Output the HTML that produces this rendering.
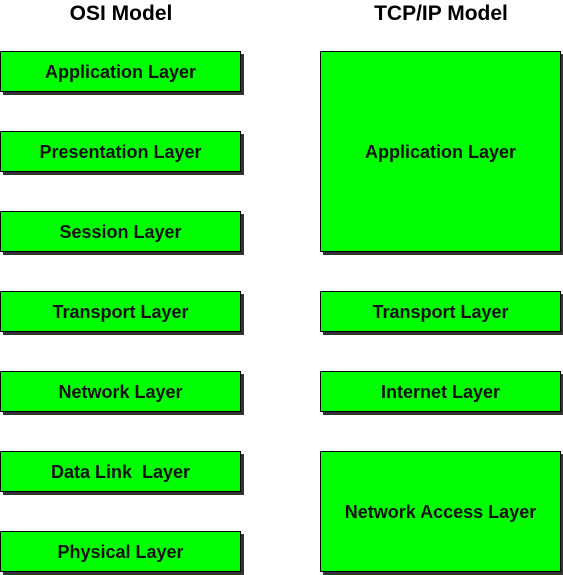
<!DOCTYPE html>
<html><head><style>
body{margin:0;width:563px;height:575px;background:#fff;position:relative;font-family:"Liberation Sans",Arial,sans-serif;overflow:hidden}
.t{position:absolute;top:2px;width:240px;text-align:center;font-weight:bold;font-size:21px}
.b{position:absolute;box-sizing:border-box;width:241px;background:#00ff00;border:1px solid #000;box-shadow:3px 3px 0 #333;display:flex;align-items:center;justify-content:center;font-weight:bold;font-size:18px;color:#111;padding-top:2px}
</style></head><body>
<div class="t" style="left:1px">OSI Model</div>
<div class="t" style="left:321px">TCP/IP Model</div>
<div class="b" style="left:0;top:51px;height:41px">Application Layer</div>
<div class="b" style="left:0;top:131px;height:41px">Presentation Layer</div>
<div class="b" style="left:0;top:211px;height:41px">Session Layer</div>
<div class="b" style="left:0;top:291px;height:41px">Transport Layer</div>
<div class="b" style="left:0;top:371px;height:41px">Network Layer</div>
<div class="b" style="left:0;top:451px;height:41px">Data Link&nbsp; Layer</div>
<div class="b" style="left:0;top:531px;height:41px">Physical Layer</div>
<div class="b" style="left:320px;top:51px;height:201px">Application Layer</div>
<div class="b" style="left:320px;top:291px;height:41px">Transport Layer</div>
<div class="b" style="left:320px;top:371px;height:41px">Internet Layer</div>
<div class="b" style="left:320px;top:451px;height:121px">Network Access Layer</div>
</body></html>
